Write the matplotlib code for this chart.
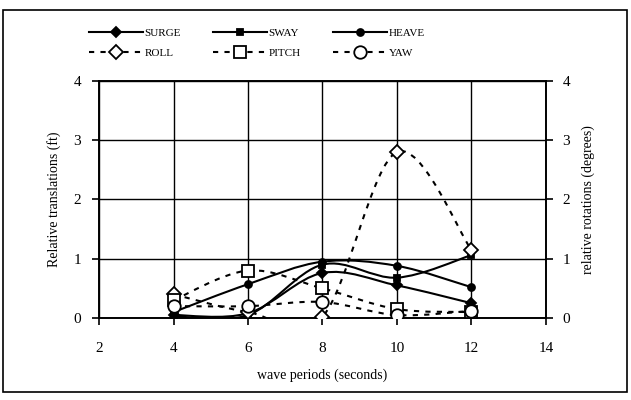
import matplotlib
matplotlib.use("Agg")
import matplotlib.pyplot as plt
from matplotlib.path import Path
from matplotlib.patches import PathPatch, Rectangle
from matplotlib.lines import Line2D

plt.rcParams['font.family'] = ['Liberation Serif', 'DejaVu Serif']

periods = [4, 6, 8, 10, 12]

# translations (ft), left axis
surge = [0.05, 0.08, 0.76, 0.55, 0.25]
sway = [0.03, 0.05, 0.90, 0.68, 1.06]
heave = [0.10, 0.57, 0.95, 0.88, 0.52]

# rotations (degrees), right axis
roll = [0.40, 0.10, 0.02, 2.80, 1.15]
pitch = [0.30, 0.80, 0.50, 0.15, 0.10]
yaw = [0.20, 0.20, 0.27, 0.05, 0.12]


def smooth_path(xs, ys):
    # Catmull-Rom style bezier through the points, like spreadsheet "smoothed line"
    pts = list(zip(xs, ys))
    n = len(pts)
    verts = [pts[0]]
    codes = [Path.MOVETO]
    for i in range(n - 1):
        p0 = pts[i - 1] if i > 0 else pts[i]
        p1 = pts[i]
        p2 = pts[i + 1]
        p3 = pts[i + 2] if i + 2 < n else pts[i + 1]
        c1 = (p1[0] + (p2[0] - p0[0]) / 6, p1[1] + (p2[1] - p0[1]) / 6)
        c2 = (p2[0] - (p3[0] - p1[0]) / 6, p2[1] - (p3[1] - p1[1]) / 6)
        verts += [c1, c2, p2]
        codes += [Path.CURVE4] * 3
    return Path(verts, codes)


fig = plt.figure(figsize=(6.31, 4.0), dpi=100)
ax = fig.add_axes([0.157, 0.205, 0.708, 0.593])
ax2 = ax.twinx()

solid = dict(color='black', lw=1.5, ls='-')
dotted = dict(color='black', lw=1.5, ls=(0, (2.5, 3)))

series = [
    (ax, surge, solid, dict(marker='D', ms=5, mfc='black'), 'SURGE'),
    (ax, sway, solid, dict(marker='s', ms=5, mfc='black'), 'SWAY'),
    (ax, heave, solid, dict(marker='o', ms=5, mfc='black'), 'HEAVE'),
    (ax2, roll, dotted, dict(marker='D', ms=7, mfc='white'), 'ROLL'),
    (ax2, pitch, dotted, dict(marker='s', ms=8, mfc='white'), 'PITCH'),
    (ax2, yaw, dotted, dict(marker='o', ms=9, mfc='white'), 'YAW'),
]

handles = {}
for a, vals, style, mk, name in series:
    a.add_patch(PathPatch(smooth_path(periods, vals), fill=False,
                          edgecolor=style['color'], lw=style['lw'], ls=style['ls'], zorder=3))
    a.plot(periods, vals, ls='none', mec='black', mew=1.3, zorder=4, **mk)
    handles[name] = Line2D([], [], mec='black', mew=1.3, **style, **mk)

for a in (ax, ax2):
    a.set_ylim(0, 4)
    a.set_yticks([0, 1, 2, 3, 4])
    a.set_xlim(2, 14)
ax.set_xticks([2, 4, 6, 8, 10, 12, 14])
ax.grid(True, color='black', lw=1.0)
ax.set_axisbelow(True)

for a in (ax, ax2):
    for s in a.spines.values():
        s.set_linewidth(1.2)
    a.tick_params(labelsize=11, width=1.2, length=5, color='black')
ax.tick_params(axis='x', direction='out', pad=12)
ax.tick_params(axis='y', pad=8)
ax2.tick_params(axis='y', pad=7)

ax.set_ylabel('Relative translations (ft)', fontsize=10, labelpad=9)
ax2.set_ylabel('relative rotations (degrees)', fontsize=10, labelpad=8)
ax.set_xlabel('wave periods (seconds)', fontsize=10, labelpad=10)

order = ['SURGE', 'ROLL', 'SWAY', 'PITCH', 'HEAVE', 'YAW']
fig.legend([handles[k] for k in order], order, ncol=3, loc='upper left',
           bbox_to_anchor=(0.125, 0.955), frameon=False, fontsize=8,
           handlelength=4.9, handletextpad=0.1, columnspacing=2.9,
           labelspacing=0.95)

fig.add_artist(Rectangle((0.005, 0.02), 0.988, 0.955, transform=fig.transFigure,
                         fill=False, edgecolor='black', lw=1.2))

fig.savefig('out.png', dpi=100)
